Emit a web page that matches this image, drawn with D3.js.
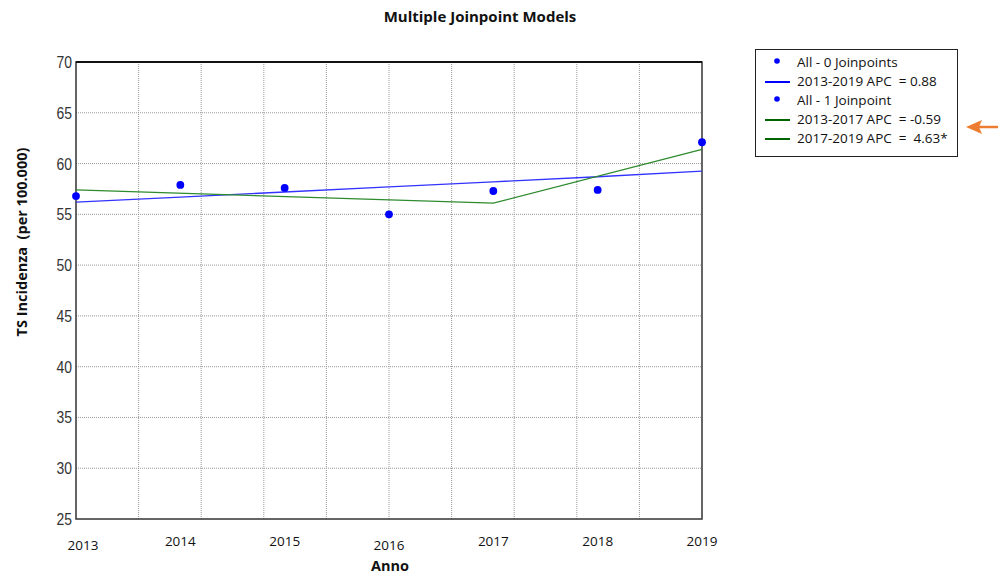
<!DOCTYPE html>
<html>
<head>
<meta charset="utf-8">
<script src="https://cdn.jsdelivr.net/npm/d3@7"></script>
<style>
  body { margin: 0; background: #fff; }
  svg { display: block; }
  .tick-y { font-family: "Liberation Sans", sans-serif; font-size: 17px; fill: #333; }
  .tick-x { font-family: "Open Sans", sans-serif; font-size: 13.5px; fill: #111; }
  .bold { font-family: "Open Sans", sans-serif; font-weight: bold; fill: #111; }
  .leg { font-family: "Open Sans", sans-serif; font-size: 13.5px; fill: #111; }
</style>
</head>
<body>
<div id="chart"></div>
<script>
// observed rates
var years = [2013, 2014, 2015, 2016, 2017, 2018, 2019];
var observed = [56.8, 57.9, 57.6, 55.0, 57.3, 57.4, 62.1];
// model 0 joinpoints (APC 0.88)
var model0 = [56.2, 56.7, 57.2, 57.7, 58.2, 58.7, 59.25];
// model 1 joinpoint at 2017
var model1Years = [2013, 2017, 2019];
var model1 = [57.4, 56.1, 61.4];
var yTicks = [25, 30, 35, 40, 45, 50, 55, 60, 65, 70];
var legendLabels = ["All - 0 Joinpoints", "2013-2019 APC \u00a0= 0.88", "All - 1 Joinpoint", "2013-2017 APC \u00a0= -0.59", "2017-2019 APC \u00a0= \u00a04.63*"];
var legendKinds = ["dot", "line", "dot", "line", "line"];
var legendColors = ["#0000ff", "#0000ff", "#0000ff", "#006400", "#006400"];

var width = 1000, height = 574;
var margin = {left: 76, right: 298, top: 62, bottom: 55};

var svg = d3.select("#chart").append("svg")
	.attr("width", width)
	.attr("height", height);

var x = d3.scaleLinear().domain([2013, 2019]).range([margin.left, width - margin.right]);
var y = d3.scaleLinear().domain([25, 70]).range([height - margin.bottom, margin.top]);

// grid: vertical lines at 10 equal divisions
var xGrid = d3.range(1, 10).map(function(i){ return 2013 + i * 0.6; });
svg.append("g").selectAll("line").data(xGrid).enter().append("line")
	.attr("x1", function(d){ return x(d); })
	.attr("x2", function(d){ return x(d); })
	.attr("y1", y(70)).attr("y2", y(25))
	.style("stroke", "#999").style("stroke-dasharray", "1,1");

svg.append("g").selectAll("line").data(yTicks.slice(1, -1)).enter().append("line")
	.attr("x1", x(2013)).attr("x2", x(2019))
	.attr("y1", function(d){ return y(d); })
	.attr("y2", function(d){ return y(d); })
	.style("stroke", "#999").style("stroke-dasharray", "1,1");

// frame
svg.append("rect")
	.attr("x", x(2013)).attr("y", y(70))
	.attr("width", x(2019) - x(2013)).attr("height", y(25) - y(70))
	.style("fill", "none").style("stroke", "#333").style("stroke-width", 1.5);
svg.append("line")
	.attr("x1", x(2013)).attr("x2", x(2019)).attr("y1", y(70)).attr("y2", y(70))
	.style("stroke", "#111").style("stroke-width", 2);

// y tick labels (narrow face)
svg.append("g").selectAll("text").data(yTicks).enter().append("text")
	.attr("class", "tick-y")
	.attr("transform", function(d){ return "translate(" + (x(2013) - 4) + "," + (y(d) + 6) + ") scale(0.82,1)"; })
	.attr("text-anchor", "end")
	.text(function(d){ return d; });

// x tick labels (2013 and 2016 sit a little lower, as in the original)
svg.append("g").selectAll("text").data(years).enter().append("text")
	.attr("class", "tick-x")
	.attr("x", function(d){ return d == 2013 ? x(d) + 7 : x(d); })
	.attr("y", function(d){ return (d == 2013 || d == 2016) ? 550 : 546; })
	.attr("text-anchor", "middle")
	.text(function(d){ return d; });

// titles
svg.append("text").attr("class", "bold")
	.attr("x", 480).attr("y", 22)
	.attr("text-anchor", "middle").style("font-size", "15px")
	.text("Multiple Joinpoint Models");

svg.append("text").attr("class", "bold")
	.attr("x", 390).attr("y", 571)
	.attr("text-anchor", "middle").style("font-size", "14.5px")
	.text("Anno");

svg.append("text").attr("class", "bold")
	.attr("transform", "translate(27,242) rotate(-90)")
	.attr("text-anchor", "middle").style("font-size", "14.5px")
	.text("TS Incidenza \u00a0(per 100.000)");

// model lines
var line = d3.line()
	.x(function(d){ return x(d[0]); })
	.y(function(d){ return y(d[1]); });

svg.append("path")
	.datum(d3.zip(years, model0))
	.attr("d", line)
	.style("fill", "none").style("stroke", "#3333ff").style("stroke-width", 1.3);

svg.append("path")
	.datum(d3.zip(model1Years, model1))
	.attr("d", line)
	.style("fill", "none").style("stroke", "#2e8b2e").style("stroke-width", 1.3);

// observed points
svg.append("g").selectAll("circle").data(d3.zip(years, observed)).enter().append("circle")
	.attr("cx", function(d){ return x(d[0]); })
	.attr("cy", function(d){ return y(d[1]); })
	.attr("r", 3.9)
	.style("fill", "#0000ff");

// legend
var lg = svg.append("g");
lg.append("rect")
	.attr("x", 755.5).attr("y", 49.5)
	.attr("width", 202).attr("height", 107)
	.style("fill", "#fff").style("stroke", "#222").style("stroke-width", 1);

legendLabels.forEach(function(lbl, i){
	var ly = 63 + i * 19;
	if(legendKinds[i] == "dot"){
		lg.append("circle").attr("cx", 777).attr("cy", ly - 2).attr("r", 2.8)
			.style("fill", legendColors[i]);
	} else {
		lg.append("line").attr("x1", 765).attr("x2", 790)
			.attr("y1", ly).attr("y2", ly)
			.style("stroke", legendColors[i]).style("stroke-width", 2);
	}
	lg.append("text").attr("class", "leg")
		.attr("x", 797).attr("y", ly + 4)
		.text(lbl);
});

// orange arrow
svg.append("line")
	.attr("x1", 998).attr("x2", 978).attr("y1", 127).attr("y2", 127)
	.style("stroke", "#ed7d31").style("stroke-width", 2.5);
svg.append("path")
	.attr("d", "M966,127 L982,120 L979,127 L982,134 Z")
	.style("fill", "#ed7d31");
</script>
</body>
</html>
